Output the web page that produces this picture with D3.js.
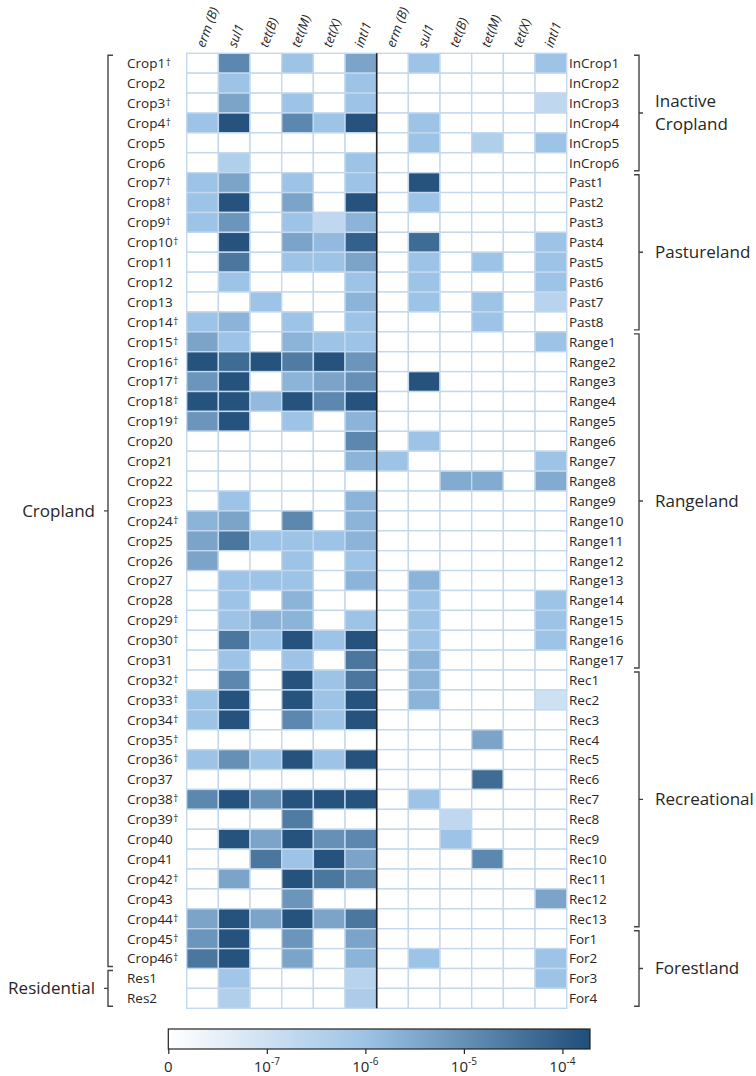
<!DOCTYPE html>
<html>
<head>
<meta charset="utf-8">
<script src="https://cdn.jsdelivr.net/npm/d3@7"></script>
<style>
  body { margin: 0; background: #fff; }
  text { font-family: "Open Sans", "Noto Sans", sans-serif; fill: #262626; }
</style>
</head>
<body>
<svg id="chart" width="756" height="1076"></svg>
<script>
// Genes measured (columns of each panel)
const genes = ["erm (B)", "sul1", "tet(B)", "tet(M)", "tet(X)", "intI1"];

// Left panel sites (a dagger marks flagged sites)
const leftSites = [
  "Crop1†","Crop2","Crop3†","Crop4†","Crop5","Crop6","Crop7†","Crop8†","Crop9†","Crop10†",
  "Crop11","Crop12","Crop13","Crop14†","Crop15†","Crop16†","Crop17†","Crop18†","Crop19†","Crop20",
  "Crop21","Crop22","Crop23","Crop24†","Crop25","Crop26","Crop27","Crop28","Crop29†","Crop30†",
  "Crop31","Crop32†","Crop33†","Crop34†","Crop35†","Crop36†","Crop37","Crop38†","Crop39†","Crop40",
  "Crop41","Crop42†","Crop43","Crop44†","Crop45†","Crop46†","Res1","Res2"
];

// Right panel sites
const rightSites = [
  "InCrop1","InCrop2","InCrop3","InCrop4","InCrop5","InCrop6",
  "Past1","Past2","Past3","Past4","Past5","Past6","Past7","Past8",
  "Range1","Range2","Range3","Range4","Range5","Range6","Range7","Range8","Range9","Range10",
  "Range11","Range12","Range13","Range14","Range15","Range16","Range17",
  "Rec1","Rec2","Rec3","Rec4","Rec5","Rec6","Rec7","Rec8","Rec9","Rec10","Rec11","Rec12","Rec13",
  "For1","For2","For3","For4"
];

// Land-use groups: [label lines, first site, last site]
const leftGroups = [
  [["Cropland"], "Crop1†", "Crop46†"],
  [["Residential"], "Res1", "Res2"]
];
const rightGroups = [
  [["Inactive", "Cropland"], "InCrop1", "InCrop6"],
  [["Pastureland"], "Past1", "Past8"],
  [["Rangeland"], "Range1", "Range17"],
  [["Recreational"], "Rec1", "Rec13"],
  [["Forestland"], "For1", "For4"]
];

// Relative abundances, left panel (Crop1..Crop46, Res1, Res2)
const ermB_left = [0,0,0,1e-6,0,0,1e-6,1e-6,1e-6,0,
  0,0,0,1e-6,4e-6,1.5e-4,8e-6,1.5e-4,8e-6,0,
  0,0,0,2e-6,4e-6,4e-6,0,0,0,0,
  0,0,1e-6,1e-6,0,1e-6,0,1.5e-5,0,0,
  0,0,0,4e-6,8e-6,3e-5, 0,0];
const sul1_left = [1.5e-5,1e-6,4e-6,1.5e-4,0,4e-7,4e-6,1.5e-4,8e-6,1.5e-4,
  3e-5,1e-6,0,2e-6,1e-6,5e-5,1.5e-4,1.5e-4,1.5e-4,0,
  0,0,1e-6,4e-6,3e-5,0,1e-6,1e-6,1e-6,3e-5,
  1e-6,1.5e-5,1.5e-4,1.5e-4,0,1e-5,0,1.5e-4,0,1.5e-4,
  0,4e-6,0,1.5e-4,1.5e-4,1.5e-4, 8e-7,4e-7];
const tetB_left = [0,0,0,0,0,0,0,0,0,0,
  0,0,1e-6,0,0,1.5e-4,0,1.5e-6,0,0,
  0,0,0,0,1e-6,0,1e-6,0,2e-6,1e-6,
  0,0,0,0,0,1e-6,0,1e-5,0,4e-6,
  3e-5,0,0,4e-6,0,0, 0,0];
const tetM_left = [1e-6,0,1e-6,1.5e-5,0,0,1e-6,4e-6,1e-6,4e-6,
  1e-6,0,0,1e-6,2e-6,2.5e-5,2e-6,1.5e-4,1e-6,0,
  0,0,0,1.5e-5,1e-6,1e-6,1e-6,2e-6,2e-6,1.5e-4,
  1e-6,1.5e-4,1.5e-4,1.5e-5,0,1.5e-4,0,1.5e-4,2.5e-5,1.5e-4,
  1e-6,1.5e-4,8e-6,1.5e-4,8e-6,4e-6, 0,0];
const tetX_left = [0,0,0,1e-6,0,0,0,0,2e-7,1.5e-6,
  1e-6,0,0,0,1e-6,1.5e-4,4e-6,1.5e-5,0,0,
  0,0,0,0,1e-6,0,0,0,0,1e-6,
  0,1e-6,1e-6,1e-6,0,1e-6,0,1.5e-4,0,1e-5,
  1.5e-4,3e-5,0,4e-6,0,0, 0,0];
const intI1_left = [4e-6,1e-6,1e-6,1.5e-4,0,1e-6,1e-6,1.5e-4,2e-6,8e-5,
  4e-6,1e-6,2e-6,1e-6,1e-6,8e-6,1e-5,1.5e-4,2e-6,1.5e-5,
  2e-6,0,2e-6,2e-6,2e-6,1e-6,2e-6,0,1e-6,1.5e-4,
  3e-5,3e-5,1.5e-4,1.5e-4,0,1.5e-4,0,1.5e-4,0,1.5e-5,
  4e-6,1e-5,0,3e-5,4e-6,2e-6, 3e-7,5e-7];

// Relative abundances, right panel (InCrop, Past, Range, Rec, For)
const ermB_right = [0,0,0,0,0,0, 0,0,0,0,0,0,0,0,
  0,0,0,0,0,0,1e-6,0,0,0,0,0,0,0,0,0,0,
  0,0,0,0,0,0,0,0,0,0,0,0,0, 0,0,0,0];
const sul1_right = [1e-6,0,0,1e-6,1e-6,0, 1.5e-4,1e-6,0,5e-5,1e-6,1e-6,1e-6,0,
  0,0,1.5e-4,0,0,1e-6,0,0,0,0,0,0,2e-6,1e-6,1e-6,1e-6,2e-6,
  2e-6,2e-6,0,0,0,0,1e-6,0,0,0,0,0,0, 0,1e-6,0,0];
const tetB_right = [0,0,0,0,0,0, 0,0,0,0,0,0,0,0,
  0,0,0,0,0,0,0,3e-6,0,0,0,0,0,0,0,0,0,
  0,0,0,0,0,0,0,2e-7,1e-6,0,0,0,0, 0,0,0,0];
const tetM_right = [0,0,0,0,4e-7,0, 0,0,0,0,1e-6,0,1e-6,1e-6,
  0,0,0,0,0,0,0,3e-6,0,0,0,0,0,0,0,0,0,
  0,0,0,4e-6,0,5e-5,0,0,0,1.5e-5,0,0,0, 0,0,0,0];
const tetX_right = [0,0,0,0,0,0, 0,0,0,0,0,0,0,0,
  0,0,0,0,0,0,0,0,0,0,0,0,0,0,0,0,0,
  0,0,0,0,0,0,0,0,0,0,0,0,0, 0,0,0,0];
const intI1_right = [1e-6,0,2e-7,0,1e-6,0, 0,0,0,1e-6,1e-6,1e-6,3e-7,0,
  1e-6,0,0,0,0,0,1e-6,3e-6,0,0,0,0,0,1e-6,1e-6,1e-6,0,
  0,1e-7,0,0,0,0,0,0,0,0,0,4e-6,0, 0,1e-6,1e-6,0];

// Colour-bar ticks (log10 exponents; the lowest one stands for zero)
const barTicks = [-8, -7, -6, -5, -4];
const barTickLabels = ["0", "-7", "-6", "-5", "-4"];

const leftCols = [ermB_left, sul1_left, tetB_left, tetM_left, tetX_left, intI1_left];
const rightCols = [ermB_right, sul1_right, tetB_right, tetM_right, tetX_right, intI1_right];

const svg = d3.select("#chart");

const gridTop = 53.3, gridBottom = 1008.3;
const xLeft = d3.scaleBand().domain(genes).range([186.7, 376.7]);
const xRight = d3.scaleBand().domain(genes).range([376.7, 566.7]);
const yLeft = d3.scaleBand().domain(leftSites).range([gridTop, gridBottom]);
const yRight = d3.scaleBand().domain(rightSites).range([gridTop, gridBottom]);

const expMin = -8, expMax = -3.72;
const toExp = v => v > 0 ? Math.max(expMin, Math.log10(v)) : expMin;
const color = d3.scaleLinear()
  .domain([expMin, -6, expMax])
  .range(["#ffffff", "#9dc3e6", "#1f4e79"])
  .clamp(true);

function drawPanel(cols, x, y, sites) {
  const cells = [];
  genes.forEach((g, gi) => sites.forEach((s, si) => cells.push({ g, s, v: cols[gi][si] })));
  svg.append("g").selectAll("rect").data(cells).join("rect")
    .attr("x", d => x(d.g))
    .attr("y", d => y(d.s))
    .attr("width", x.bandwidth())
    .attr("height", y.bandwidth())
    .attr("fill", d => color(toExp(d.v)))
    .attr("stroke", "#c3d8ee")
    .attr("stroke-width", 1.4);

  // rotated gene headers
  svg.append("g").selectAll("text").data(genes).join("text")
    .attr("transform", g => `translate(${x(g) + x.bandwidth() / 2 + 2},${gridTop - 5}) rotate(-70)`)
    .attr("font-size", 13)
    .attr("font-style", "italic")
    .text(g => g);
}

drawPanel(leftCols, xLeft, yLeft, leftSites);
drawPanel(rightCols, xRight, yRight, rightSites);

// panel divider
svg.append("line")
  .attr("x1", 376.7).attr("x2", 376.7)
  .attr("y1", gridTop).attr("y2", gridBottom)
  .attr("stroke", "#222").attr("stroke-width", 1.6);

// site labels
function siteLabels(sites, y, xPos) {
  const t = svg.append("g").selectAll("text").data(sites).join("text")
    .attr("x", xPos)
    .attr("y", s => y(s) + y.bandwidth() / 2)
    .attr("dy", "0.36em")
    .attr("font-size", 13.5);
  t.append("tspan").text(s => s.replace("†", ""));
  t.filter(s => s.includes("†")).append("tspan")
    .attr("font-size", 10).attr("dy", "-0.2em").attr("dx", "0.5").text("†");
}
siteLabels(leftSites, yLeft, 127);
siteLabels(rightSites, yRight, 569);

// group brackets
function brackets(groups, y, bx, dir, gap) {
  groups.forEach(([lines, a, b]) => {
    const y0 = y(a) + 2, y1 = y(b) + y.bandwidth() - 2, ym = (y0 + y1) / 2;
    const g = svg.append("g");
    g.append("path")
      .attr("d", `M${bx - 5 * dir},${y0}H${bx}V${y1}H${bx - 5 * dir}M${bx},${ym}H${bx + 4 * dir}`)
      .attr("fill", "none").attr("stroke", "#444").attr("stroke-width", 1.4);
    const tx = bx + gap * dir;
    const txt = g.append("text")
      .attr("x", tx)
      .attr("y", ym)
      .attr("text-anchor", dir < 0 ? "end" : "start")
      .attr("font-size", 17);
    lines.forEach((ln, i) => {
      txt.append("tspan")
        .attr("x", tx)
        .attr("dy", i === 0 ? `${0.33 - (lines.length - 1) * 0.66}em` : "1.33em")
        .text(ln);
    });
  });
}
brackets(leftGroups, yLeft, 108, -1, 13);
brackets(rightGroups, yRight, 639, 1, 16);

// colour bar
const barX = d3.scaleLinear().domain([expMin, expMax]).range([168.3, 590]);
const defs = svg.append("defs");
const grad = defs.append("linearGradient").attr("id", "bar-grad");
d3.range(0, 1.0001, 0.05).forEach(f => {
  grad.append("stop")
    .attr("offset", f)
    .attr("stop-color", color(expMin + f * (expMax - expMin)));
});
const barTop = 1029, barH = 20;
svg.append("rect")
  .attr("x", barX(expMin)).attr("y", barTop)
  .attr("width", barX(expMax) - barX(expMin)).attr("height", barH)
  .attr("fill", "url(#bar-grad)")
  .attr("stroke", "#222").attr("stroke-width", 1.2);

const axis = svg.append("g")
  .attr("transform", `translate(0,${barTop + barH})`)
  .call(d3.axisBottom(barX).tickValues(barTicks).tickSize(5).tickFormat(() => ""));
axis.select(".domain").remove();
axis.selectAll(".tick line").attr("stroke", "#222").attr("stroke-width", 1.2);
axis.selectAll(".tick text").remove();

const lab = svg.append("g").selectAll("text").data(barTicks).join("text")
  .attr("x", d => barX(d))
  .attr("y", barTop + barH + 23)
  .attr("text-anchor", "middle")
  .attr("font-size", 15);
lab.each(function (d, i) {
  const t = d3.select(this);
  if (i === 0) { t.text(barTickLabels[i]); return; }
  t.append("tspan").text("10");
  t.append("tspan").attr("font-size", 10).attr("dy", "-0.7em").text(barTickLabels[i]);
});
</script>
</body>
</html>
